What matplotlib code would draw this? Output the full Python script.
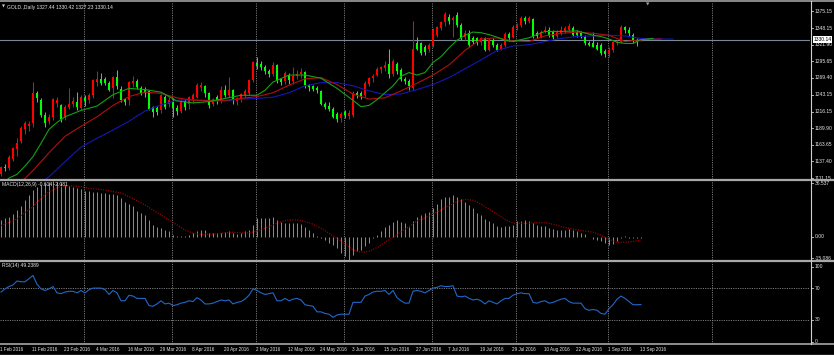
import matplotlib
matplotlib.use('Agg')
import matplotlib.pyplot as plt
import matplotlib.transforms as mtrans
from matplotlib.lines import Line2D
import numpy as np
import pandas as pd

plt.rcParams['font.family'] = ['Liberation Sans Narrow', 'Liberation Sans', 'DejaVu Sans']

W, H = 834, 355

# ---------------- data ----------------
dates = [d for d in pd.bdate_range('2016-02-01', '2016-09-13') if d != pd.Timestamp('2016-03-25')]

opens = [1118,1129,1127,1142,1157,1170,1188,1193,1198,1246,1234,1211,1202,1208,1230,1226,1208,1224,1228,1232,
         1222,1238,1235,1242,1263,1268,1267,1262,1253,1271,1252,1236,1234,1261,1264,1254,1250,1248,1223,1222,
         1218,1240,1228,1233,1222,1217,1233,1229,1235,1240,1255,1256,1245,1229,1239,1233,1251,1242,1250,1233,
         1238,1243,1246,1266,1293,1291,1287,1281,1275,1290,1268,1264,1274,1264,1272,1275,1279,1258,1256,1254,
         1249,1229,1225,1220,1213,1206,1215,1210,1211,1245,1245,1242,1260,1269,1274,1283,1285,1292,1276,1292,
         1282,1268,1264,1254,1325,1324,1319,1315,1321,1338,1348,1358,1366,1361,1369,1353,1335,1341,1332,1332,
         1327,1332,1314,1330,1322,1316,1321,1339,1335,1350,1353,1364,1360,1362,1340,1335,1343,1345,1342,1336,
         1341,1343,1345,1348,1342,1340,1335,1324,1324,1321,1321,1312,1308,1313,1325,1327,1350,1346,1338,1330,
         1327.44]
highs = [1130,1133,1147,1160,1174,1194,1201,1201,1263,1249,1238,1215,1213,1238,1240,1228,1226,1253,1240,1247,
         1243,1242,1245,1268,1280,1277,1271,1265,1273,1282,1256,1238,1265,1272,1267,1257,1255,1250,1225,1225,
         1244,1242,1240,1237,1226,1236,1236,1241,1246,1261,1263,1259,1247,1238,1243,1256,1258,1271,1252,1240,
         1246,1252,1268,1297,1303,1296,1290,1284,1295,1292,1270,1280,1277,1287,1282,1285,1281,1260,1259,1257,
         1251,1232,1231,1223,1215,1216,1218,1218,1248,1249,1248,1265,1271,1276,1287,1289,1296,1315,1299,1295,
         1285,1271,1267,1359,1335,1327,1322,1324,1348,1352,1360,1374,1370,1368,1374,1356,1345,1345,1336,1335,
         1335,1335,1333,1333,1325,1325,1342,1342,1353,1357,1368,1367,1368,1365,1343,1345,1352,1350,1345,1345,
         1352,1352,1356,1351,1346,1343,1338,1328,1342,1326,1324,1315,1318,1328,1330,1353,1352,1350,1340,1332,
         1330.42]
lows = [1115,1122,1124,1138,1146,1166,1180,1185,1192,1232,1208,1192,1197,1203,1223,1200,1203,1220,1224,1218,
        1218,1225,1230,1238,1256,1258,1258,1249,1238,1252,1232,1226,1226,1255,1252,1243,1240,1218,1208,1211,
        1214,1221,1224,1208,1211,1214,1219,1220,1230,1238,1249,1239,1222,1225,1228,1230,1240,1240,1229,1226,
        1232,1238,1242,1263,1284,1282,1275,1271,1272,1262,1259,1260,1260,1260,1268,1270,1254,1249,1248,1246,
        1227,1220,1217,1206,1200,1200,1206,1205,1207,1238,1236,1240,1257,1263,1272,1278,1281,1270,1273,1276,
        1264,1260,1251,1251,1314,1305,1305,1311,1318,1335,1345,1352,1355,1335,1350,1330,1330,1318,1323,1322,
        1322,1312,1312,1318,1312,1313,1318,1328,1332,1345,1350,1355,1356,1333,1332,1332,1340,1335,1331,1333,
        1338,1340,1343,1336,1334,1333,1322,1320,1318,1314,1306,1302,1302,1310,1322,1324,1341,1336,1325,1320,
        1327.23]
closes = [1129,1127,1145,1158,1167,1190,1198,1197,1245,1237,1211,1198,1208,1236,1234,1205,1224,1229,1233,1224,
          1239,1233,1242,1266,1268,1261,1262,1251,1271,1256,1235,1232,1263,1265,1255,1245,1245,1221,1216,1215,
          1242,1224,1235,1222,1217,1233,1223,1239,1243,1258,1258,1245,1227,1236,1234,1251,1243,1250,1234,1237,
          1244,1249,1266,1295,1289,1287,1280,1276,1290,1264,1263,1277,1266,1272,1276,1279,1258,1255,1252,1250,
          1229,1224,1221,1208,1205,1213,1211,1214,1244,1243,1239,1262,1269,1273,1284,1287,1290,1276,1296,1280,
          1267,1264,1256,1316,1316,1309,1310,1321,1345,1350,1358,1371,1360,1365,1353,1332,1341,1322,1327,1325,
          1332,1314,1330,1321,1314,1321,1339,1332,1350,1353,1364,1359,1364,1336,1336,1342,1345,1338,1335,1342,
          1345,1348,1351,1338,1337,1335,1324,1322,1319,1316,1309,1308,1313,1326,1327,1350,1345,1340,1328,1327,
          1330.14]

# Alligator lines (values at displayed bar positions, already shifted forward)
jaw_bars = [8,12,16,20,24,28,32,36,40,44,48,52,56,60,64,68,72,76,80,84,88,92,96,100,104,108,112,116,120,124,
            128,132,136,140,144,148,152,156,160,164,168]
jaw_vals = [1095,1113,1137,1160,1174,1187,1201,1217,1227,1234,1235,1233,1233,1236,1237,1239,1246,1257,1262,1262,
            1257,1249,1243,1244,1251,1259,1270,1284,1298,1313,1320,1322,1327,1332,1335,1336,1337,1336,1332,1331,1331]
teeth_bars = [4,8,12,16,20,24,28,32,36,40,44,48,52,56,60,64,68,72,76,80,84,88,92,96,100,104,108,112,116,120,
              124,128,132,136,140,144,148,152,156,160,165]
teeth_vals = [1098,1123,1151,1177,1193,1208,1226,1240,1247,1245,1238,1234,1234,1234,1237,1240,1246,1258,1268,1270,
              1259,1244,1236,1238,1249,1261,1274,1290,1313,1331,1333,1328,1327,1336,1340,1342,1340,1337,1327,1330,1331]
lips_bars = [0,2,4,6,8,10,12,14,16,20,24,28,32,36,40,44,48,52,56,60,64,66,68,72,76,80,84,88,90,92,94,96,98,100,
             102,104,106,108,110,112,114,116,118,120,122,124,126,128,132,136,140,144,148,150,152,154,156,158,160,163]
lips_vals = [1100,1111,1117,1130,1145,1166,1188,1199,1208,1218,1225,1243,1253,1251,1247,1233,1230,1232,1237,1242,
             1242,1250,1263,1274,1274,1269,1253,1234,1224,1226,1235,1246,1257,1272,1278,1274,1278,1294,1303,1317,
             1329,1337,1342,1341,1338,1334,1329,1327,1333,1343,1343,1344,1337,1335,1331,1326,1324,1324,1330,1332]

# MACD(12,26,9): main as histogram (per bar), signal (every 2nd bar)
macd_main = [11.1,12.2,13.3,14.8,17.6,20.5,24.2,27.4,30.7,32.5,33.8,35.0,36.0,36.5,36.0,35.2,34.0,33.0,32.5,31.8,
             31.3,30.3,29.9,29.5,29.5,28.8,28.6,28.2,28.2,27.4,25.3,23.0,21.5,20.0,17.2,15.5,14.4,11.1,8.0,6.3,
             5.9,4.8,3.7,1.5,0.4,0.4,0.6,1.5,2.6,4.1,4.8,4.8,2.6,2.6,2.6,2.6,3.3,3.7,2.6,2.2,
             2.6,3.7,4.8,8.0,12.2,12.2,12.2,12.6,13.3,11.1,10.0,9.0,9.0,9.0,9.0,8.3,6.8,4.8,2.6,0.4,
             -0.7,-1.7,-3.9,-5.0,-7.2,-10.5,-12.5,-15.086,-12.0,-9.4,-8.3,-6.1,-3.9,-0.7,1.5,3.7,6.8,8.0,10.0,11.1,
             10.0,9.0,6.8,10.5,13.3,14.4,15.5,16.6,18.7,21.6,24.6,25.9,26.3,27.4,25.9,24.6,23.1,20.9,18.7,15.5,
             14.4,11.8,10.7,9.2,7.1,6.4,7.1,7.1,8.1,10.1,10.5,11.1,10.1,9.0,8.1,7.0,7.0,5.9,5.4,4.8,
             4.8,4.8,5.4,4.8,4.1,2.6,2.0,0.0,-1.1,-1.7,-2.8,-3.9,-5.0,-4.6,-2.8,-0.7,0.3,-0.7,-0.7,-0.7,
             -0.614]
signal_bars = list(range(0, 161, 2))
signal_vals = [7.4,9.4,11.8,16.1,19.8,25.3,29.6,32.2,33.3,33.3,32.9,31.8,31.2,30.7,29.6,28.6,26.3,23.7,20.9,17.6,
               14.4,11.1,7.8,4.6,2.4,1.7,1.7,2.0,2.6,3.1,2.6,2.6,3.9,5.7,7.8,10.0,11.1,11.1,10.0,8.3,
               5.7,2.4,-0.9,-4.8,-8.5,-10.0,-9.4,-7.0,-3.5,-0.4,3.5,6.7,10.5,12.5,15.0,17.5,20.5,23.0,24.5,24.0,
               21.5,18.0,15.0,11.5,9.0,8.9,8.9,9.3,9.3,8.3,6.8,5.6,4.6,3.8,3.1,1.0,-1.5,-3.5,-3.5,-3.0,
               -2.081]

# RSI(14)
rsi = [65,69,72,74,79,78,78,82,86,75,69,67,69,72,64,63,65,66,66,64,
       67,64,68,70,70,70,68,62,67,64,54,54,61,60,57,57,57,48,47,50,
       54,50,51,48,49,51,52,54,53,58,55,50,50,51,53,55,54,55,50,52,
       53,56,61,69,67,64,62,63,64,54,54,57,54,56,57,55,49,48,47,40,
       40,38,37,33,36,37,37,37,52,52,52,60,62,65,66,66,67,62,67,58,
       54,51,51,66,67,66,64,67,70,71,73,72,72,73,60,59,60,57,55,56,
       54,50,54,52,50,54,57,57,61,63,64,63,63,52,51,53,54,51,52,54,
       56,57,53,51,51,51,44,42,43,42,38,37,44,49,56,60,57,53,49,49,
       49.2389]

price_ticks = [1375.15, 1348.15, 1321.90, 1295.65, 1269.40, 1243.15, 1216.15, 1189.90, 1163.65, 1137.40, 1111.15]
macd_ticks = [36.537, 0.00, -15.086]
macd_tick_labels = ['36.537', '0.00', '-15.086']
rsi_ticks = [100, 70, 30, 0]
grid_bars = [21, 43, 64, 86, 108, 129, 152, 178]
label_every = 8
current_price = 1330.14
title_text = 'GOLD.,Daily 1327.44 1330.42 1327.23 1330.14'
macd_text = 'MACD(12,26,9) -0.614 -2.081'
rsi_text = 'RSI(14) 49.2389'

# ---------------- figure ----------------
fig = plt.figure(figsize=(W / 100, H / 100), dpi=100, facecolor='black')

CHART_R = 810


def px_rect(top, bottom, left=0, right=CHART_R):
    return [left / W, 1 - bottom / H, (right - left) / W, (bottom - top) / H]


ax_p = fig.add_axes(px_rect(3, 179))
ax_m = fig.add_axes(px_rect(181, 260))
ax_r = fig.add_axes(px_rect(262, 343.5))

n = len(closes)
x = np.arange(n)
xlim = (-0.25, (CHART_R - 1) / 4)
for ax in (ax_p, ax_m, ax_r):
    ax.set_facecolor('black')
    ax.set_xlim(*xlim)
    ax.set_xticks([])
    ax.set_yticks([])
    for s in ax.spines.values():
        s.set_visible(False)
    for g in grid_bars:
        ax.axvline(g - 0.25, color='#8c8c8c', lw=0.6, ls=(0, (1.4, 1.4)), zorder=0.5)

# price panel
ax_p.set_ylim(1109.57, 1388.0)
o = np.array(opens, float); h = np.array(highs, float)
l = np.array(lows, float); c = np.array(closes, float)
up = c >= o
cols = np.where(up, '#ff0000', '#00ff00')
ax_p.vlines(x, l, h, colors=cols, lw=0.75, zorder=3)
body = np.maximum(np.abs(c - o), 1.2)
ax_p.bar(x, body, bottom=np.minimum(o, c), width=0.72, color=cols, edgecolor='none', zorder=3)
ax_p.plot(jaw_bars, jaw_vals, color='#1616b8', lw=0.8, zorder=4)
ax_p.plot(teeth_bars, teeth_vals, color='#b01010', lw=0.8, zorder=4)
ax_p.plot(lips_bars, lips_vals, color='#16a016', lw=0.8, zorder=4)
ax_p.axhline(current_price, color='#7b8796', lw=0.8, zorder=2)

# MACD panel
ax_m.set_ylim(-15.086, 36.537)
ax_m.vlines(x, 0, macd_main, colors='#a4a4a4', lw=0.6, zorder=3)
ax_m.plot(signal_bars, signal_vals, color='#b00000', lw=0.9, ls=(0, (0.8, 1.2)), zorder=4)

# RSI panel
ax_r.set_ylim(0, 103)
for lv in (70, 30):
    ax_r.axhline(lv, color='#8c8c8c', lw=0.6, ls=(0, (1.4, 1.4)), zorder=0.5)
ax_r.plot(x, rsi, color='#1f68cc', lw=0.8, zorder=4)

# ---------------- frame lines ----------------
def fig_hline(ypx, color, lw, x0=0, x1=W):
    fig.add_artist(Line2D([x0 / W, x1 / W], [1 - ypx / H, 1 - ypx / H], color=color, lw=lw,
                          transform=fig.transFigure))

def fig_vline(xpx, y0, y1, color, lw):
    fig.add_artist(Line2D([xpx / W, xpx / W], [1 - y0 / H, 1 - y1 / H], color=color, lw=lw,
                          transform=fig.transFigure))

fig_hline(0.8, '#a0a0a0', 1.2)
fig_hline(180, '#a8a8a8', 1.6)
fig_hline(261, '#a8a8a8', 1.6)
fig_hline(343.8, '#a8a8a8', 1.2)
fig_hline(354.5, '#a0a0a0', 1.0)
fig_vline(CHART_R + 0.5, 1, 344, '#d0d0d0', 0.8)

FS = 3.6
FS_DATE = 3.3
TXT = '#e6e6e6'
lab_x = 815 / W
tick_x0, tick_x1 = (CHART_R + 0.5) / W, (CHART_R + 3) / W

def right_labels(ax, vals, labels):
    tr = mtrans.blended_transform_factory(fig.transFigure, ax.transData)
    for v, s in zip(vals, labels):
        ax.text(lab_x, v, s, transform=tr, color=TXT, fontsize=FS, ha='left', va='center', clip_on=False)
        ax.add_line(Line2D([tick_x0, tick_x1], [v, v], transform=tr, color='#d0d0d0', lw=0.6, clip_on=False))

right_labels(ax_p, price_ticks, ['%.2f' % v for v in price_ticks])
right_labels(ax_m, [35.2, 0.0, -13.8], macd_tick_labels)
right_labels(ax_r, [97, 70, 30, 2.5], [str(v) for v in rsi_ticks])

# current price box
trp = mtrans.blended_transform_factory(fig.transFigure, ax_p.transData)
ax_p.text(lab_x - 1.5 / W, current_price, '%.2f' % current_price, transform=trp, color='black', fontsize=FS,
          ha='left', va='center', clip_on=False,
          bbox=dict(facecolor='white', edgecolor='none', pad=0.6))

# panel titles
fig.text(2 / W, 1 - 7 / H, '\u25bc', color='#d0d0d0', fontsize=2.8, ha='left', va='center',
         family=['DejaVu Sans'])
fig.text(7 / W, 1 - 7 / H, title_text, color=TXT, fontsize=FS, ha='left', va='center')
fig.text(2 / W, 1 - 184.5 / H, macd_text, color=TXT, fontsize=FS, ha='left', va='center')
fig.text(2 / W, 1 - 266 / H, rsi_text, color=TXT, fontsize=FS, ha='left', va='center')
fig.text(647.5 / W, 1 - 4 / H, '\u25bc', color='#a0a0a0', fontsize=3.2, ha='center', va='center',
         family=['DejaVu Sans'])

# date labels
trx = ax_r.get_xaxis_transform()
for i in range(0, n, label_every):
    d = dates[i]
    ax_r.text(i - 0.25, -6.2 / 81.5, '%d %s' % (d.day, d.strftime('%b %Y')), transform=trx, color=TXT,
              fontsize=FS_DATE, ha='left', va='center', clip_on=False)

fig.savefig('out.png', dpi=100, facecolor='black')
